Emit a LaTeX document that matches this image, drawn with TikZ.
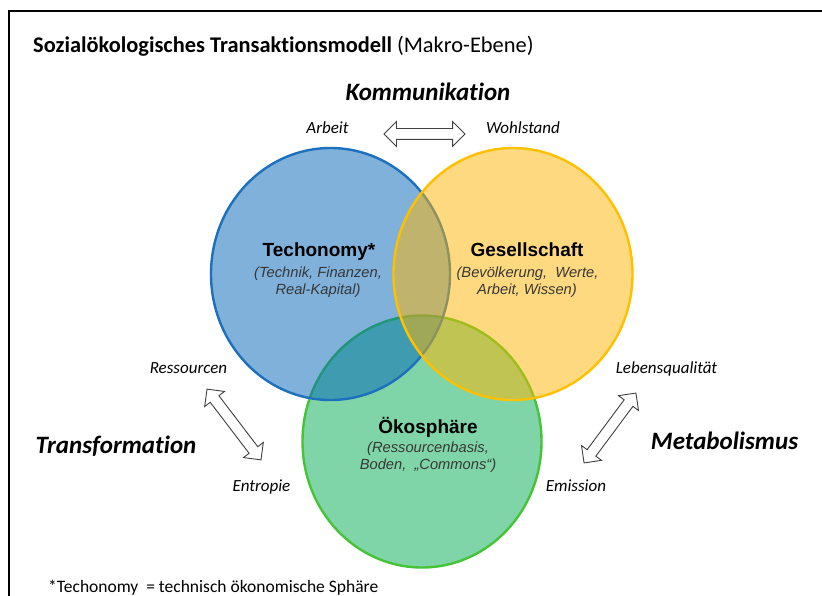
\documentclass[tikz,border=0pt]{standalone}
\usepackage{fontspec}
\setmainfont[Ligatures=NoCommon]{Carlito}
\newfontfamily\arialfont{Liberation Sans}
\usetikzlibrary{shapes.geometric,shapes.arrows}

\definecolor{bluebase}{RGB}{0,101,185}
\definecolor{blueline}{RGB}{28,112,190}
\definecolor{yellowbase}{RGB}{255,181,0}
\definecolor{yellowline}{RGB}{255,192,0}
\definecolor{greenbase}{RGB}{0,173,81}
\definecolor{greenline}{RGB}{70,196,55}
\definecolor{subgray}{RGB}{55,55,55}

\tikzset{
  sphere/.style={ellipse, minimum width=239pt, minimum height=252pt, inner sep=0pt,
                 line width=2.4pt, fill opacity=0.5, draw opacity=1},
  head/.style={font=\arialfont\bfseries\fontsize{19}{21}\selectfont, inner sep=0pt, anchor=base},
  sub/.style={font=\arialfont\itshape\fontsize{14.7}{16}\selectfont, text=subgray, inner sep=0pt, anchor=base},
  flow/.style={font=\itshape\fontsize{17}{19}\selectfont, inner sep=0pt, anchor=base},
  process/.style={font=\bfseries\itshape\fontsize{25}{29}\selectfont, inner sep=0pt, anchor=base},
  exchange/.style={double arrow, draw=black!75, fill=white, line width=0.9pt,
                   inner xsep=0pt, inner ysep=5pt, minimum height=#1,
                   double arrow head extend=7pt},
}

\begin{document}
\begin{tikzpicture}[x=1pt, y=-1pt]
  \useasboundingbox (0,0) rectangle (822,596);
  \fill[white] (0,0) rectangle (822,596);

  % open frame: top and left border only
  \coordinate (fbl) at (9,600);
  \coordinate (ftl) at (9,11);
  \coordinate (ftr) at (830,11);
  \draw[line width=2pt] (fbl) -- (ftl) -- (ftr);

  % title
  \node[anchor=base west, inner sep=0pt, font=\fontsize{22.4}{26}\selectfont] (title) at (33,53)
    {\textbf{Sozialökologisches Transaktionsmodell} (Makro-Ebene)};

  % three overlapping spheres
  \node[sphere, fill=greenbase, draw=greenline] (oeko) at (422,441.5) {};
  \node[sphere, fill=bluebase, draw=blueline] (tech) at (330.5,274) {};
  \node[sphere, fill=yellowbase, draw=yellowline] (ges) at (513,274) {};

  % sphere labels
  \node[head] (techT) at (319,256) {Techonomy*};
  \node[sub] (techS1) at (318,277) {(Technik, Finanzen,};
  \node[sub] (techS2) at (318,294) {Real-Kapital)};

  \node[head] (gesT) at (527,256) {Gesellschaft};
  \node[sub] (gesS1) at (527.5,277) {(Bevölkerung,\ \ Werte,};
  \node[sub] (gesS2) at (527,294) {Arbeit, Wissen)};

  \node[head] (oekoT) at (428,433) {Ökosphäre};
  \node[sub] (oekoS1) at (428,452) {(Ressourcenbasis,};
  \node[sub] (oekoS2) at (428,469) {Boden,\ \ „Commons“)};

  % Kommunikation (top)
  \node[process] (komm) at (428,101) {Kommunikation};
  \node[flow] (arbeit) at (327.5,134) {Arbeit};
  \node[flow] (wohl) at (523,134) {Wohlstand};
  \node[exchange=81pt] (xtop) at (424.5,134) {};

  % Transformation (left)
  \node[process] (trans) at (116,453) {Transformation};
  \node[flow] (ress) at (188.5,373) {Ressourcen};
  \node[flow] (entr) at (261.5,491) {Entropie};
  \node[exchange=89pt, rotate=-52.7] (xleft) at (234,424.5) {};

  % Metabolismus (right)
  \node[process] (meta) at (724.5,449) {Metabolismus};
  \node[flow] (leben) at (666.5,373) {Lebensqualität};
  \node[flow] (emis) at (576,491) {Emission};
  \node[exchange=87pt, rotate=53.4] (xright) at (610,428) {};

  % footnote
  \node[anchor=base west, inner sep=0pt, font=\fontsize{17.5}{20}\selectfont] (note) at (48,592)
    {*Techonomy\ \ = technisch ökonomische Sphäre};
\end{tikzpicture}
\end{document}
